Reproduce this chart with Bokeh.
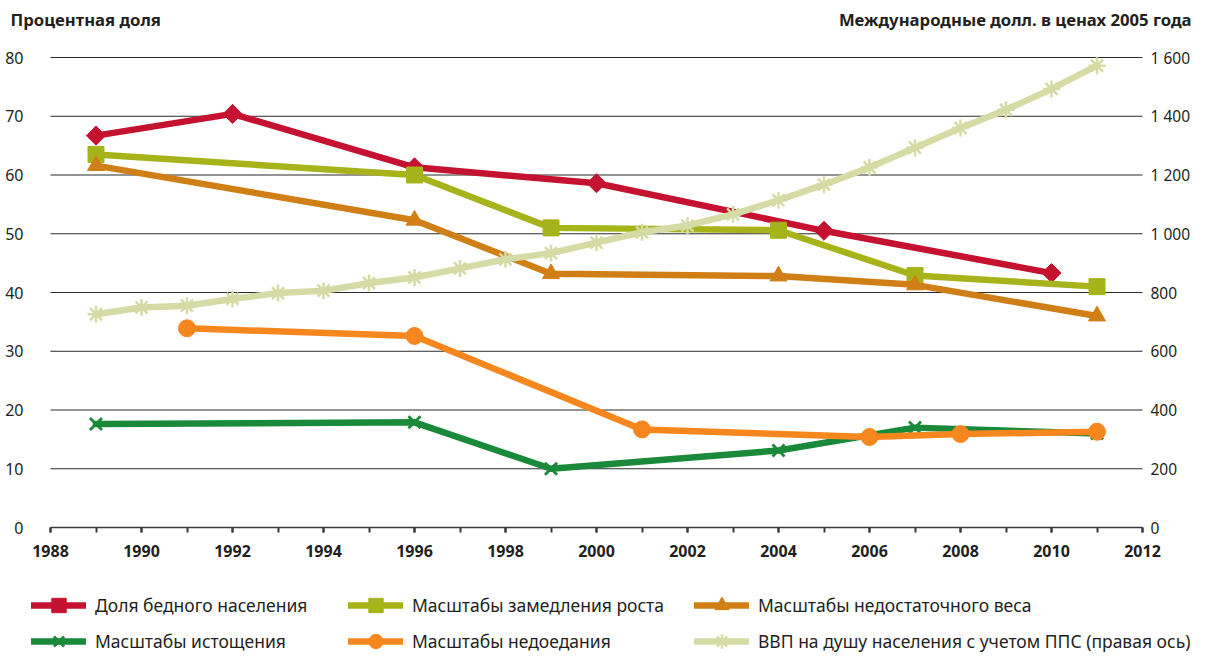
import math
from bokeh.plotting import figure
from bokeh.models import (LinearAxis, Range1d, FixedTicker, Legend, LegendItem, Label)
from bokeh.core.properties import value
from bokeh.embed import file_html
from bokeh.resources import INLINE

# ---------------- data ----------------
poverty_years = [1989, 1992, 1996, 2000, 2005, 2010]
poverty = [66.7, 70.4, 61.3, 58.6, 50.5, 43.3]

stunting_years = [1989, 1996, 1999, 2004, 2007, 2011]
stunting = [63.5, 60.0, 51.0, 50.6, 42.9, 41.0]

underweight_years = [1989, 1996, 1999, 2004, 2007, 2011]
underweight = [61.6, 52.3, 43.2, 42.8, 41.3, 36.0]

wasting_years = [1989, 1996, 1999, 2004, 2007, 2011]
wasting = [17.6, 17.9, 10.0, 13.1, 17.0, 16.0]

undernourish_years = [1991, 1996, 2001, 2006, 2008, 2011]
undernourish = [33.9, 32.6, 16.7, 15.4, 15.9, 16.3]

gdp_years = list(range(1989, 2012))
gdp = [726, 749, 755, 778, 798, 806, 832, 851, 882, 913, 934, 970,
       1005, 1028, 1066, 1114, 1167, 1226, 1293, 1360, 1422, 1493, 1572]

left_ticks = [0, 10, 20, 30, 40, 50, 60, 70, 80]
right_ticks = [0, 200, 400, 600, 800, 1000, 1200, 1400, 1600]
right_tick_labels = ["0", "200", "400", "600", "800", "1 000", "1 200", "1 400", "1 600"]
x_major_ticks = list(range(1988, 2013, 2))
x_minor_ticks = list(range(1988, 2013, 1))

labels = ["Доля бедного населения", "Масштабы замедления роста",
          "Масштабы недостаточного веса", "Масштабы истощения",
          "Масштабы недоедания",
          "ВВП на душу населения с учетом ППС (правая ось)"]
left_title = "Процентная доля"
right_title = "Международные долл. в ценах 2005 года"

# ---------------- layout / styles ----------------
FONT = "Noto Sans"
TXT = "#231f20"
C_POV = "#c41230"
C_STU = "#a6b31b"
C_UND = "#d07f17"
C_WAS = "#1a8a3a"
C_NOU = "#f6871f"
C_GDP = "#d5dba5"

W, H = 1193, 653
FL, FR, FT, FB = 50, 1142, 57, 527          # pixel box of the data area
X0, X1 = x_major_ticks[0], x_major_ticks[-1]
Y0, Y1 = left_ticks[0], left_ticks[-1]
R1 = right_ticks[-1]
ppx = (FR - FL) / (X1 - X0)
ppy = (FB - FT) / (Y1 - Y0)
xr = Range1d(X0 - FL / ppx, X1 + (W - FR) / ppx)
yr = Range1d(Y0 - (H - FB) / ppy, Y1 + FT / ppy)
k = R1 / Y1
gr = Range1d(yr.start * k, yr.end * k)

p = figure(width=W, height=H, output_backend="svg", toolbar_location=None,
           x_range=xr, y_range=yr, x_axis_location=None, y_axis_location=None,
           min_border=0)
p.outline_line_color = None
p.grid.visible = False
p.extra_y_ranges = {"gdp": gr}

# grid lines
gt = left_ticks[1:]
p.segment(x0=[X0] * len(gt), x1=[X1] * len(gt), y0=gt, y1=gt,
          line_color="#2b2b2b", line_width=1.2)

# x axis
xa = LinearAxis(fixed_location=Y0, bounds=(X0, X1),
                ticker=FixedTicker(ticks=x_major_ticks, minor_ticks=x_minor_ticks))
xa.axis_line_color = "#3a3a3a"
xa.axis_line_width = 1.5
xa.major_tick_line_color = "#3a3a3a"
xa.minor_tick_line_color = "#3a3a3a"
xa.major_tick_line_width = 2
xa.minor_tick_line_width = 2
xa.major_tick_in = 0
xa.major_tick_out = 5
xa.minor_tick_in = 0
xa.minor_tick_out = 5
xa.major_label_text_font = FONT
xa.major_label_text_font_style = "bold"
xa.major_label_text_font_size = "16px"
xa.major_label_text_color = TXT
xa.major_label_standoff = 12
p.add_layout(xa, "below")

# left axis
ya = LinearAxis(fixed_location=X0, bounds=(Y0, Y1), ticker=FixedTicker(ticks=left_ticks))
ya.axis_line_color = None
ya.major_tick_line_color = None
ya.minor_tick_line_color = None
ya.major_label_text_font = FONT
ya.major_label_text_font_size = "16px"
ya.major_label_text_color = TXT
ya.major_label_standoff = 21
p.add_layout(ya, "left")

# right-hand scale labels (GDP axis)
p.text(x=[X1] * len(right_ticks), y=right_ticks, text=right_tick_labels,
       y_range_name="gdp", x_offset=8, text_align="left", text_baseline="middle",
       text_font=value(FONT), text_font_size="15.5px", text_color=TXT)

LW = 6.5
common = dict(line_width=LW, line_join="round", line_cap="round")
r_pov_l = p.line(poverty_years, poverty, line_color=C_POV, **common)
r_pov_m = p.scatter(poverty_years, poverty, marker="square", angle=math.pi / 4,
                    size=13.5, color=C_POV)

r_stu_l = p.line(stunting_years, stunting, line_color=C_STU, **common)
r_stu_m = p.scatter(stunting_years, stunting, marker="square", size=16, color=C_STU)

r_und_l = p.line(underweight_years, underweight, line_color=C_UND, **common)
r_und_m = p.scatter(underweight_years, underweight, marker="triangle", size=17, color=C_UND)

r_was_l = p.line(wasting_years, wasting, line_color=C_WAS, **common)
r_was_m = p.scatter(wasting_years, wasting, marker="x", size=17, line_color=C_WAS, line_width=2.8)

r_nou_l = p.line(undernourish_years, undernourish, line_color=C_NOU, **common)
r_nou_m = p.scatter(undernourish_years, undernourish, marker="circle", size=17, color=C_NOU)

r_gdp_l = p.line(gdp_years, gdp, line_color=C_GDP, y_range_name="gdp", **common)
r_gdp_m = p.scatter(gdp_years, gdp, marker="asterisk", size=17, line_color=C_GDP, line_width=2.5,
                    y_range_name="gdp")

pairs = [(r_pov_l, r_pov_m), (r_stu_l, r_stu_m), (r_und_l, r_und_m),
         (r_was_l, r_was_m), (r_nou_l, r_nou_m), (r_gdp_l, r_gdp_m)]

col_x = [31, 348, 694]
for c in range(3):
    items = [LegendItem(label=labels[c], renderers=list(pairs[c])),
             LegendItem(label=labels[c + 3], renderers=list(pairs[c + 3]))]
    lg = Legend(items=items, location=(col_x[c], -6), orientation="vertical",
                glyph_width=55, glyph_height=36, label_height=36, spacing=-4,
                padding=0, margin=0, label_standoff=9,
                label_text_font=FONT, label_text_font_size="17.5px",
                label_text_color=TXT, border_line_color=None,
                background_fill_alpha=0)
    p.add_layout(lg, "center")

p.add_layout(Label(x=10, y=H - 19, x_units="screen", y_units="screen", text=left_title,
                   text_font=FONT, text_font_style="bold", text_font_size="16.7px",
                   text_color=TXT, text_baseline="middle", text_align="left"))
p.add_layout(Label(x=W - 2, y=H - 19, x_units="screen", y_units="screen", text=right_title,
                   text_font=FONT, text_font_style="bold", text_font_size="16.7px",
                   text_color=TXT, text_baseline="middle", text_align="right"))

open("out.html", "w").write(file_html(p, INLINE))
